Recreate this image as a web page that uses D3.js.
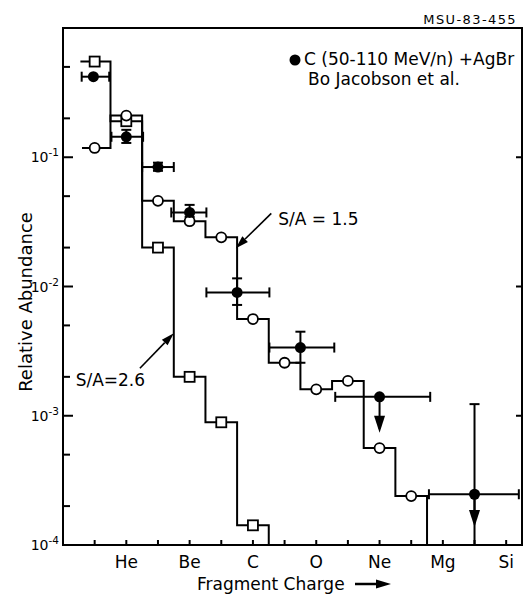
<!DOCTYPE html>
<html>
<head>
<meta charset="utf-8">
<script src="https://cdn.jsdelivr.net/npm/d3@7"></script>
<style>
  body { margin: 0; background: #fff; }
  text { font-family: "DejaVu Sans", sans-serif; fill: #000; }
</style>
</head>
<body>
<svg id="chart" width="526" height="595"></svg>
<script>
// ---- axes ----
const chargeTicks = [1, 2, 3, 4, 5, 6, 7, 8, 9, 10, 11, 12, 13, 14];
const elementLabels = ["He", "Be", "C", "O", "Ne", "Mg", "Si"];
const elementCharges = [2, 4, 6, 8, 10, 12, 14];
const yMajorTicks = [1e-4, 1e-3, 1e-2, 1e-1];
const yMajorExponents = ["-4", "-3", "-2", "-1"];
const yMinorTicks = [2e-4, 5e-4, 2e-3, 5e-3, 2e-2, 5e-2, 2e-1, 5e-1];

// ---- calculation, S/A = 2.6 (open squares) ----
const hotCharges = [1, 2, 3, 4, 5, 6];
const hotValues = [0.55, 0.19, 0.020, 0.0020, 0.00089, 0.000142];
const hotStart = 0.55;

// ---- calculation, S/A = 1.5 (open circles) ----
const coolCharges = [1, 2, 3, 4, 5, 6, 7, 8, 9, 10, 11];
const coolValues = [0.118, 0.21, 0.046, 0.032, 0.024, 0.0056, 0.00257, 0.0016, 0.00186, 0.000562, 0.000239];
const coolStart = 0.6;

// ---- measured: C (50-110 MeV/n) + AgBr ----
const dataCharge = [0.96, 2.0, 3.0, 4.0, 5.5, 7.5, 10.0, 13.0];
const dataChargeLow = [0.59, 1.53, 2.5, 3.42, 4.53, 6.52, 8.6, 11.56];
const dataChargeHigh = [1.46, 2.53, 3.5, 4.53, 6.52, 8.57, 11.6, 14.4];
const dataValue = [0.42, 0.144, 0.084, 0.0374, 0.0090, 0.00337, 0.0014, 0.000247];
const dataErrLow = [null, 0.129, 0.0785, 0.0345, 0.0072, 0.00257, null, 0.0001];
const dataErrHigh = [null, 0.163, 0.0908, 0.0428, 0.01156, 0.00447, null, 0.00123];
const dataArrowTip = [null, null, null, null, null, null, 0.00074, 0.000138];

// ---- annotations (tail -> tip in charge / abundance units) ----
const noteLabels = ["S/A = 1.5", "S/A=2.6"];
const noteTail = [[6.58, 0.0368], [2.43, 0.00233]];
const noteTip = [[5.46, 0.0198], [3.5, 0.00435]];
const noteText = [[6.8, 0.0299], [0.4, 0.0017]];

const svg = d3.select("#chart");
const plotLeft = 63, plotRight = 522, plotTop = 28, plotBottom = 545;

const x = d3.scaleLinear().domain([0, 14.5]).range([plotLeft, plotRight]);
const y = d3.scaleLog().domain([1e-4, 1]).range([plotBottom, plotTop]);

const ink = "#000";
const lw = 2;

// frame
svg.append("rect")
  .attr("x", plotLeft).attr("y", plotTop)
  .attr("width", plotRight - plotLeft).attr("height", plotBottom - plotTop)
  .attr("fill", "none").attr("stroke", ink).attr("stroke-width", lw);

// left axis: major ticks with labels, minor ticks
const gLeft = svg.append("g");
gLeft.selectAll("line.major").data(yMajorTicks).join("line")
  .attr("class", "major")
  .attr("x1", plotLeft).attr("x2", plotLeft + 10)
  .attr("y1", d => y(d)).attr("y2", d => y(d))
  .attr("stroke", ink).attr("stroke-width", lw);
gLeft.selectAll("line.minor").data(yMinorTicks).join("line")
  .attr("class", "minor")
  .attr("x1", plotLeft).attr("x2", plotLeft + 7)
  .attr("y1", d => y(d)).attr("y2", d => y(d))
  .attr("stroke", ink).attr("stroke-width", lw);
const tickText = gLeft.selectAll("text").data(yMajorTicks).join("text")
  .attr("x", 59).attr("y", d => y(d) + 5)
  .attr("text-anchor", "end")
  .attr("font-size", 14);
tickText.append("tspan").text("10");
tickText.append("tspan").attr("dy", -6).attr("font-size", 10.5)
  .text((d, i) => yMajorExponents[i]);

// right axis: major ticks
svg.append("g").selectAll("line").data(yMajorTicks.slice(1)).join("line")
  .attr("x1", plotRight - 6).attr("x2", plotRight)
  .attr("y1", d => y(d)).attr("y2", d => y(d))
  .attr("stroke", ink).attr("stroke-width", lw);

// bottom axis ticks and element labels
svg.append("g").selectAll("line").data(chargeTicks).join("line")
  .attr("x1", d => x(d)).attr("x2", d => x(d))
  .attr("y1", plotBottom).attr("y2", plotBottom - 5)
  .attr("stroke", ink).attr("stroke-width", lw);
svg.append("g").selectAll("text").data(elementCharges).join("text")
  .attr("x", d => x(d)).attr("y", 568)
  .attr("text-anchor", "middle").attr("font-size", 17)
  .text((d, i) => elementLabels[i]);

// axis titles
svg.append("text")
  .attr("x", 197).attr("y", 590)
  .attr("font-size", 17)
  .text("Fragment Charge");
svg.append("line")
  .attr("x1", 355).attr("x2", 380).attr("y1", 584).attr("y2", 584)
  .attr("stroke", ink).attr("stroke-width", 2.5);
svg.append("path")
  .attr("d", "M376,579.5 L391,584 L376,588.5 Z").attr("fill", ink);

svg.append("text")
  .attr("transform", "translate(32,302) rotate(-90)")
  .attr("text-anchor", "middle").attr("font-size", 18)
  .text("Relative Abundance");

// figure id
svg.append("text")
  .attr("x", 517).attr("y", 24)
  .attr("text-anchor", "end").attr("font-size", 13)
  .attr("letter-spacing", 1.4)
  .text("MSU-83-455");

// step histograms
function stepPoints(charges, values, start) {
  const pts = [[start, values[0]]];
  for (let i = 1; i < charges.length; i++) pts.push([charges[i] - 0.5, values[i]]);
  const last = charges[charges.length - 1] + 0.5;
  pts.push([last, values[values.length - 1]]);
  pts.push([last, 1e-4]);
  return pts;
}
const stepLine = d3.line()
  .x(d => x(d[0])).y(d => y(d[1]))
  .curve(d3.curveStepAfter);

svg.append("path")
  .attr("d", stepLine(stepPoints(hotCharges, hotValues, hotStart)))
  .attr("fill", "none").attr("stroke", ink).attr("stroke-width", lw);
svg.append("path")
  .attr("d", stepLine(stepPoints(coolCharges, coolValues, coolStart)))
  .attr("fill", "none").attr("stroke", ink).attr("stroke-width", lw);

// measured points: error bars
const gData = svg.append("g");
dataCharge.forEach((z, i) => {
  const cy = y(dataValue[i]);
  const x0 = x(dataChargeLow[i]), x1 = x(dataChargeHigh[i]);
  gData.append("line").attr("x1", x0).attr("x2", x1).attr("y1", cy).attr("y2", cy)
    .attr("stroke", ink).attr("stroke-width", lw);
  [x0, x1].forEach(cx => gData.append("line")
    .attr("x1", cx).attr("x2", cx).attr("y1", cy - 5).attr("y2", cy + 5)
    .attr("stroke", ink).attr("stroke-width", lw));
  const xc = x(z);
  if (dataErrHigh[i] !== null) {
    const yHi = y(dataErrHigh[i]), yLo = y(dataErrLow[i]);
    gData.append("line").attr("x1", xc).attr("x2", xc).attr("y1", yHi).attr("y2", yLo)
      .attr("stroke", ink).attr("stroke-width", lw);
    gData.append("line").attr("x1", xc - 5).attr("x2", xc + 5).attr("y1", yHi).attr("y2", yHi)
      .attr("stroke", ink).attr("stroke-width", lw);
    if (dataArrowTip[i] === null) {
      gData.append("line").attr("x1", xc - 5).attr("x2", xc + 5).attr("y1", yLo).attr("y2", yLo)
        .attr("stroke", ink).attr("stroke-width", lw);
    }
  }
  if (dataArrowTip[i] !== null) {
    const tip = y(dataArrowTip[i]);
    gData.append("line").attr("x1", xc).attr("x2", xc).attr("y1", cy).attr("y2", tip - 4)
      .attr("stroke", ink).attr("stroke-width", lw);
    gData.append("path")
      .attr("d", `M${xc - 5.5},${tip - 17} L${xc + 5.5},${tip - 17} L${xc},${tip} Z`)
      .attr("fill", ink);
  }
});

// open squares
svg.append("g").selectAll("rect").data(hotCharges).join("rect")
  .attr("x", d => x(d) - 5).attr("y", (d, i) => y(hotValues[i]) - 5)
  .attr("width", 10).attr("height", 10)
  .attr("fill", "#fff").attr("stroke", ink).attr("stroke-width", 1.8);

// open circles
svg.append("g").selectAll("circle").data(coolCharges).join("circle")
  .attr("cx", d => x(d)).attr("cy", (d, i) => y(coolValues[i]))
  .attr("r", 5)
  .attr("fill", "#fff").attr("stroke", ink).attr("stroke-width", 1.8);

// filled circles (measured)
svg.append("g").selectAll("circle").data(dataCharge).join("circle")
  .attr("cx", d => x(d)).attr("cy", (d, i) => y(dataValue[i]))
  .attr("r", 5.5).attr("fill", ink);

// annotation arrows
noteLabels.forEach((label, i) => {
  const tx = x(noteTail[i][0]), ty = y(noteTail[i][1]);
  const hx = x(noteTip[i][0]), hy = y(noteTip[i][1]);
  const ang = Math.atan2(hy - ty, hx - tx);
  const len = 13, half = 4;
  const bx = hx - len * Math.cos(ang), by = hy - len * Math.sin(ang);
  svg.append("line").attr("x1", tx).attr("y1", ty).attr("x2", bx).attr("y2", by)
    .attr("stroke", ink).attr("stroke-width", 1.6);
  const px = -Math.sin(ang) * half, py = Math.cos(ang) * half;
  svg.append("path")
    .attr("d", `M${hx},${hy} L${bx + px},${by + py} L${bx - px},${by - py} Z`)
    .attr("fill", ink);
  svg.append("text")
    .attr("x", x(noteText[i][0])).attr("y", y(noteText[i][1]))
    .attr("font-size", 17)
    .text(label);
});

// legend
svg.append("circle").attr("cx", 295).attr("cy", 60).attr("r", 5.5).attr("fill", ink);
svg.append("text").attr("x", 304).attr("y", 65).attr("font-size", 17)
  .text("C (50-110 MeV/n) +AgBr");
svg.append("text").attr("x", 308).attr("y", 85).attr("font-size", 17)
  .text("Bo Jacobson  et al.");
</script>
</body>
</html>
